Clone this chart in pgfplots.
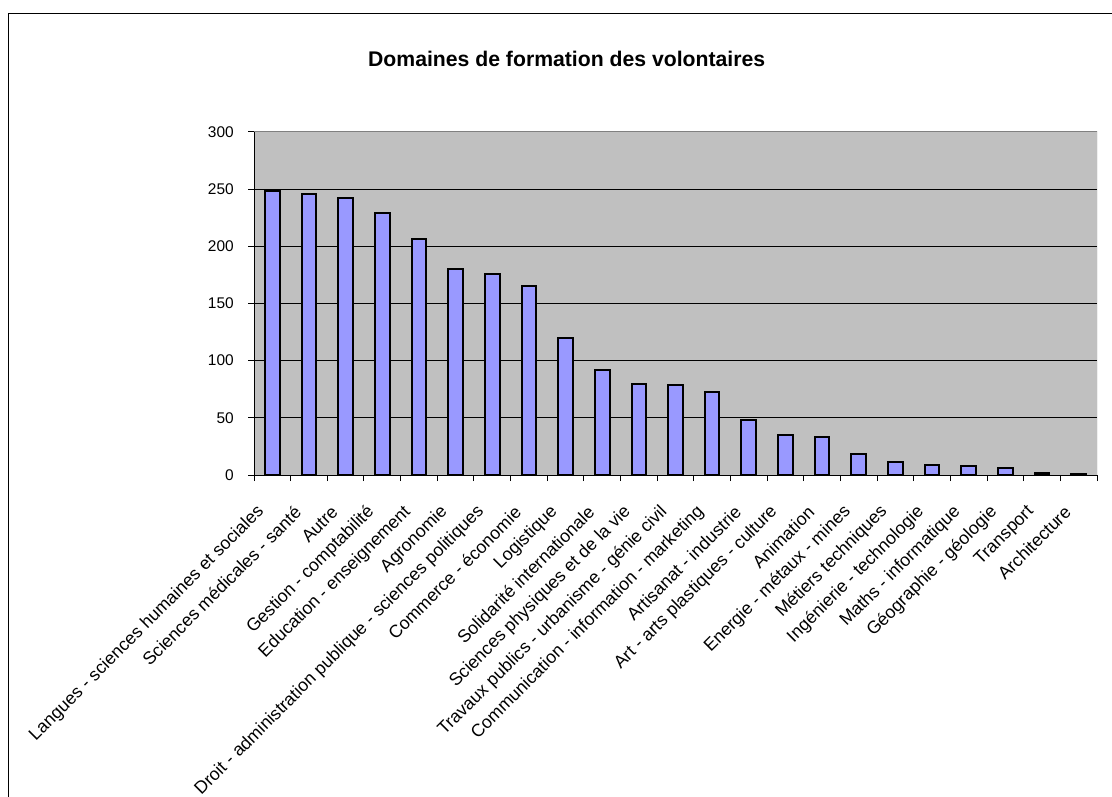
\documentclass[border=0pt]{standalone}
\usepackage{pgfplots}
\pgfplotsset{compat=1.18}
\usepackage{fontspec}
\setmainfont{Liberation Sans}
\definecolor{barfill}{RGB}{153,153,255}
\definecolor{plotbg}{RGB}{192,192,192}
\definecolor{bordergray}{RGB}{128,128,128}
\begin{document}
\begin{tikzpicture}
\useasboundingbox (0,0) rectangle (834pt,597pt);
\fill[white] (0,0) rectangle (834pt,597pt);
\draw[black, line width=0.8pt] (6.4pt,-2pt) -- (6.4pt,586.9pt) -- (840pt,586.9pt);
\node[font=\bfseries\fontsize{15.9}{18}\selectfont] at (425pt,553pt) {Domaines de formation des volontaires};
\begin{axis}[
  at={(190.5pt,240.75pt)}, anchor=south west,
  scale only axis, width=632.25pt, height=257.25pt,
  xmin=-0.5, xmax=22.5, ymin=0, ymax=300,
  axis x line*=bottom, axis y line*=left,
  axis line style={black, line width=0.75pt},
  axis background/.style={fill=plotbg},
  ytick={0,50,...,300},
  xtick={0,...,22},
  minor xtick={-0.5,0.5,...,22.5},
  tick align=outside,
  major tick length=4.5pt,
  minor tick length=4.5pt,
  major x tick style={draw=none},
  every tick/.style={black, line width=0.75pt},
  ymajorgrids,
  major grid style={black, line width=0.75pt},
  /pgf/number format/assume math mode=true,
  yticklabel style={font=\fontsize{11.6}{13}\selectfont, inner sep=0pt, anchor=east},
  yticklabel shift=10.5pt,
  xticklabel style={font=\fontsize{13.3}{15}\selectfont, rotate=45, anchor=east, inner xsep=11.5pt, inner ysep=0pt},
  xticklabel shift=13pt,
  xticklabels={Langues - sciences humaines et sociales, Sciences médicales - santé, Autre, Gestion - comptabilité, Education - enseignement, Agronomie, Droit - administration publique - sciences politiques, Commerce - économie, Logistique, Solidarité internationale, Sciences physiques et de la vie, Travaux publics - urbanisme - génie civil, Communication - information - marketing, Artisanat - industrie, Art - arts plastiques - culture, Animation, Energie - métaux - mines, Métiers techniques, Ingénierie - technologie, Maths - informatique, Géographie - géologie, Transport, Architecture},
]
\addplot[ybar, bar width=0.4, fill=barfill, draw=black, line width=1.5pt] coordinates {
(0,248) (1,246) (2,242) (3,229) (4,206) (5,180) (6,176) (7,165) (8,120) (9,92) (10,80) (11,79) (12,73) (13,48) (14,35) (15,33) (16,18) (17,11) (18,9) (19,8) (20,6) (21,2) (22,1)
};
\draw[bordergray, line width=0.75pt] (rel axis cs:0,1) -- (rel axis cs:1,1) -- (rel axis cs:1,0);
\end{axis}
\end{tikzpicture}
\end{document}
